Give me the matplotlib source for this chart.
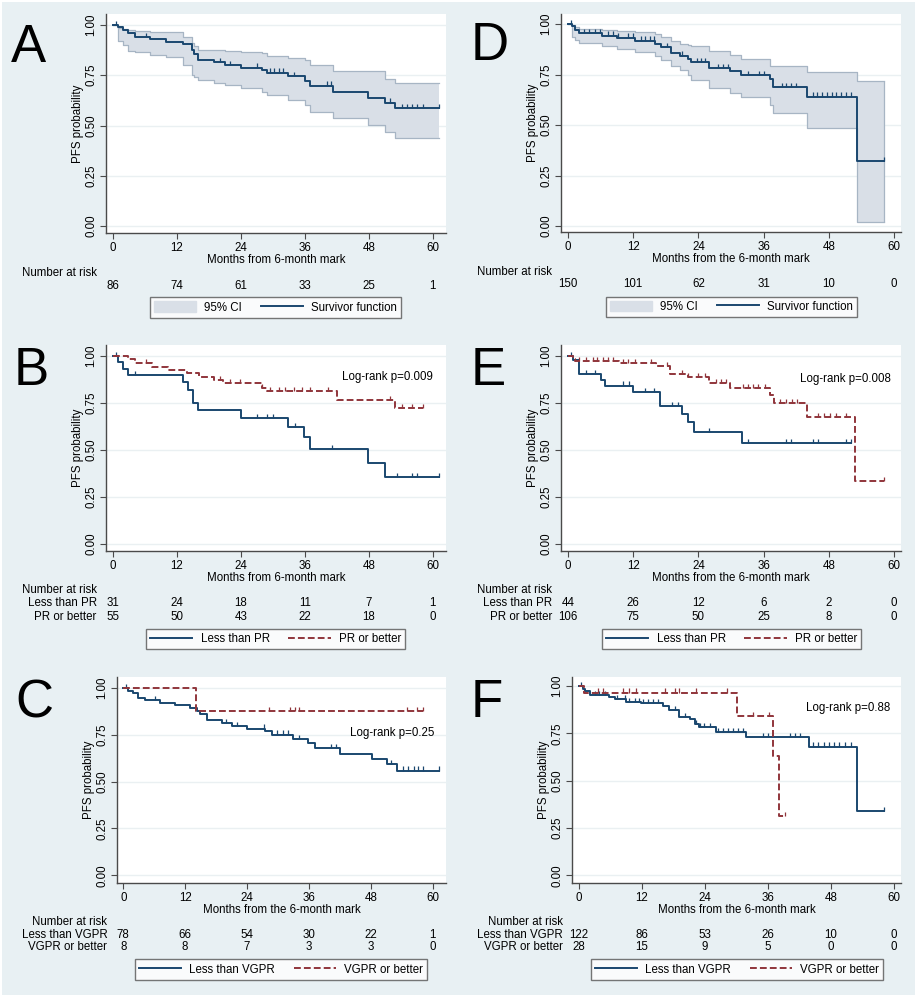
import numpy as np
import matplotlib
matplotlib.use("Agg")
import matplotlib.pyplot as plt
from matplotlib import transforms
from matplotlib.lines import Line2D
from matplotlib.patches import Patch, Rectangle

plt.rcParams['font.family'] = ['Liberation Sans', 'DejaVu Sans']

# ---------------- data ----------------
risk_times = [0, 12, 24, 36, 48, 60]

# A: whole cohort, survivor function with 95% CI
a_t = [0, 0.9, 2.0, 2.9, 4.2, 7.0, 10.0, 13.1, 14.8, 15.2, 16.0, 18.9, 21.0, 24.0,
       27.9, 29.0, 32.9, 36.0, 37.0, 41.25, 47.9, 51.0, 53.0, 61.25]
a_s = [1.0, 0.99, 0.975, 0.96, 0.94, 0.93, 0.917, 0.905, 0.875, 0.855, 0.826, 0.815, 0.80, 0.788,
       0.775, 0.763, 0.745, 0.72, 0.697, 0.668, 0.638, 0.614, 0.585, 0.585]
a_hi = [1.0, 0.985, 0.98, 0.975, 0.972, 0.965, 0.963, 0.94, 0.91, 0.895, 0.875, 0.875, 0.87, 0.867,
        0.86, 0.847, 0.835, 0.826, 0.80, 0.77, 0.77, 0.73, 0.71, 0.71]
a_lo = [1.0, 0.92, 0.90, 0.87, 0.867, 0.85, 0.842, 0.80, 0.75, 0.74, 0.726, 0.713, 0.70, 0.685,
        0.668, 0.652, 0.627, 0.60, 0.569, 0.536, 0.502, 0.469, 0.44, 0.44]
a_cens = [0.6, 6.2, 20.1, 22.0, 27.0, 29.5, 30.3, 31.1, 32.0, 34.0, 40.1, 41.0,
          52.0, 54.2, 55.1, 56.1, 57.0, 58.1, 61.25]
a_risk = [86, 74, 61, 33, 25, 1]

# B: less than PR vs PR or better
b1_t = [0, 0.9, 2.0, 2.9, 13.1, 14.1, 15.0, 16.0, 24.0, 32.9, 35.9, 37.0, 47.9, 51.0, 61.25]
b1_s = [1.0, 0.965, 0.929, 0.897, 0.858, 0.818, 0.747, 0.712, 0.671, 0.623, 0.566, 0.503, 0.428, 0.357, 0.357]
b1_cens = [0.6, 4.2, 27.1, 28.9, 30.0, 34.2, 41.1, 53.25, 56.2, 57.1, 61.25]
b2_t = [0, 2.9, 4.2, 7.3, 10.4, 13.9, 16.25, 18.9, 20.75, 27.9, 28.9, 42.0, 52.9, 58.25]
b2_s = [1.0, 0.982, 0.963, 0.942, 0.924, 0.91, 0.888, 0.871, 0.853, 0.83, 0.812, 0.765, 0.72, 0.72]
b2_cens = [6.2, 20.1, 22.0, 23.9, 27.9, 29.5, 31.1, 32.3, 33.9, 35.4, 37.0, 40.4, 52.0, 54.2, 56.1, 58.1]
b_risk1 = [31, 24, 18, 11, 7, 1]
b_risk2 = [55, 50, 43, 22, 18, 0]

# C: less than VGPR vs VGPR or better
c1_t = [0, 1.0, 1.9, 2.8, 4.2, 7.1, 10.0, 12.9, 14.2, 14.9, 16.2, 19.1, 21.0, 23.9,
        27.5, 28.8, 33.0, 35.9, 37.2, 42.0, 48.2, 51.1, 53.0, 61.3]
c1_s = [1.0, 0.985, 0.97, 0.943, 0.932, 0.92, 0.906, 0.89, 0.876, 0.86, 0.826, 0.812, 0.796, 0.782,
        0.769, 0.75, 0.728, 0.703, 0.679, 0.648, 0.622, 0.591, 0.558, 0.558]
c1_cens = [0.6, 6.1, 20.0, 22.1, 27.3, 29.9, 30.9, 31.9, 34.1, 40.3, 41.2, 52.0,
           54.2, 55.3, 56.3, 57.2, 58.2, 61.3]
c2_t = [0, 14.1, 58.2]
c2_s = [1.0, 0.875, 0.875]
c2_cens = [28.3, 32.3, 33.2, 34.1, 55.1, 57.0, 58.2]
c_risk1 = [78, 66, 54, 30, 22, 1]
c_risk2 = [8, 8, 7, 3, 3, 0]

# D: whole cohort (second series), survivor function with 95% CI
d_t = [0, 0.8, 1.35, 2.0, 6.25, 9.0, 12.4, 16.0, 17.2, 19.0, 20.7, 22.0, 22.6, 25.9,
       29.75, 31.9, 37.1, 37.7, 44.0, 53.1, 58.2]
d_s = [1.0, 0.99, 0.97, 0.954, 0.942, 0.932, 0.917, 0.90, 0.885, 0.858, 0.842, 0.825, 0.81, 0.78,
       0.767, 0.746, 0.73, 0.686, 0.64, 0.322, 0.322]
d_hi = [1.0, 0.995, 0.985, 0.975, 0.97, 0.965, 0.96, 0.95, 0.935, 0.915, 0.90, 0.895, 0.89, 0.866,
        0.846, 0.825, 0.79, 0.79, 0.764, 0.72, 0.72]
d_lo = [1.0, 0.935, 0.92, 0.908, 0.893, 0.876, 0.863, 0.84, 0.82, 0.79, 0.772, 0.75, 0.723, 0.682,
        0.66, 0.637, 0.60, 0.558, 0.487, 0.021, 0.021]
d_cens = [0.6, 3.0, 3.9, 4.9, 5.8, 7.4, 8.3, 9.2, 11.0, 12.0, 13.4, 14.1, 15.0, 15.9, 18.3, 21.0,
          23.8, 24.5, 25.3, 27.6, 28.5, 29.4, 33.1, 35.1, 36.1, 39.3, 40.2, 41.1, 42.0,
          45.0, 45.9, 46.8, 47.6, 48.5, 49.4, 50.3, 51.2, 52.1, 58.2]
d_risk = [150, 101, 62, 31, 10, 0]

# E: less than PR vs PR or better
e1_t = [0, 0.9, 2.0, 6.0, 6.9, 12.0, 17.0, 21.0, 22.1, 23.1, 32.0, 52.1]
e1_s = [1.0, 0.977, 0.901, 0.871, 0.841, 0.809, 0.733, 0.69, 0.646, 0.593, 0.536, 0.536]
e1_cens = [0.6, 3.4, 5.0, 10.2, 11.2, 14.2, 15.8, 19.2, 20.2, 26.0, 33.1, 40.2, 41.1,
           45.1, 46.1, 51.2, 52.1]
e2_t = [0, 0.9, 1.2, 9.3, 16.25, 18.8, 22.1, 26.0, 29.9, 37.1, 37.9, 43.9, 52.9, 58.2]
e2_s = [1.0, 0.985, 0.973, 0.961, 0.945, 0.903, 0.885, 0.853, 0.827, 0.79, 0.747, 0.676, 0.336, 0.336]
e2_cens = [2.1, 3.4, 4.6, 5.4, 6.4, 7.4, 8.3, 10.1, 11.0, 12.3, 15.2, 18.3, 20.9, 22.1, 23.9, 25.3,
           27.3, 28.2, 29.1, 32.2, 33.1, 34.0, 35.0, 36.2, 39.1, 40.2, 41.3, 42.2,
           46.0, 47.2, 48.3, 49.4, 51.2, 58.2]
e_risk1 = [44, 26, 12, 6, 2, 0]
e_risk2 = [106, 75, 50, 25, 8, 0]

# F: less than VGPR vs VGPR or better
f1_t = [0, 0.75, 1.05, 2.0, 5.8, 6.8, 9.0, 11.9, 16.0, 17.1, 19.0, 21.1, 22.0, 22.8,
        26.0, 31.9, 43.9, 53.0, 58.1]
f1_s = [1.0, 0.985, 0.974, 0.952, 0.94, 0.93, 0.917, 0.908, 0.894, 0.873, 0.838, 0.824, 0.80, 0.785,
        0.755, 0.729, 0.68, 0.34, 0.34]
f1_cens = [0.45, 3.0, 3.9, 4.9, 7.3, 8.7, 9.6, 10.6, 11.4, 12.2, 13.1, 14.1, 15.0, 18.2, 20.1,
           22.2, 23.0, 23.9, 24.9, 26.5, 27.4, 28.4, 29.3, 30.3, 31.2, 35.0, 36.0, 40.1, 41.1, 42.0,
           44.6, 45.6, 46.6, 47.6, 48.6, 49.6, 50.7, 51.9, 58.1]
f2_t = [0, 0.95, 30.0, 37.0, 38.0, 39.2]
f2_s = [1.0, 0.965, 0.843, 0.63, 0.315, 0.315]
f2_cens = [3.6, 4.6, 8.4, 9.5, 10.9, 16.3, 18.2, 19.0, 22.2, 28.1, 33.1, 36.1, 39.2]
f_risk1 = [122, 86, 53, 26, 10, 0]
f_risk2 = [28, 15, 9, 5, 0, 0]

# ---------------- styling ----------------
W, H = 918, 1000
BG = '#e8f0f3'
NAVY = '#1a476f'
RED = '#90353b'
CI_FILL = '#d9dfe7'
CI_EDGE = '#a7b5c4'
GRID = '#eaf0f2'
AXC = '#4a4a4a'
FS = 8.3

fig = plt.figure(figsize=(W / 100, H / 100), dpi=100)
fig.patch.set_facecolor('white')
fig.patches.append(Rectangle((2 / W, 1 - 995 / H), 913 / W, 993 / H, transform=fig.transFigure,
                             facecolor=BG, edgecolor='none', zorder=-10))


def step_at(t, s, x):
    idx = np.searchsorted(t, x, side='right') - 1
    return np.asarray(s)[np.clip(idx, 0, len(s) - 1)]


def make_axes(box, x0, x60, y1, y0, xlabel):
    l, t, r, b = box
    ax = fig.add_axes([l / W, 1 - b / H, (r - l) / W, (b - t) / H])
    xs = (x60 - x0) / 60
    ys = (y0 - y1)
    ax.set_xlim((l - x0) / xs, (r - x0) / xs)
    ax.set_ylim((y0 - b) / ys, (y0 - t) / ys)
    ax.set_facecolor('white')
    for side in ['top', 'right']:
        ax.spines[side].set_visible(False)
    for side in ['left', 'bottom']:
        ax.spines[side].set_color(AXC)
        ax.spines[side].set_linewidth(1.0)
    ax.set_xticks(risk_times)
    ax.set_yticks([0, 0.25, 0.5, 0.75, 1.0])
    ax.set_yticklabels(['0.00', '0.25', '0.50', '0.75', '1.00'])
    ax.tick_params(length=4.3, width=0.8, color=AXC, labelsize=FS, pad=2)
    ax.tick_params(axis='y', labelrotation=90)
    for lab in ax.get_yticklabels():
        lab.set_va('center')
    ax.yaxis.grid(True, color=GRID, lw=1.0)
    ax.set_axisbelow(True)
    ax.set_ylabel('PFS probability', fontsize=FS, labelpad=1)
    ax.set_xlabel(xlabel, fontsize=FS, labelpad=0.5)
    return ax


def km(ax, t, s, color, cens, dashed=False):
    line, = ax.step(t, s, where='post', color=color, lw=1.4, zorder=3)
    if dashed:
        line.set_dashes([3.5, 1.6])
    cy = step_at(t, s, cens)
    ax.vlines(cens, cy, cy + 0.022, color=color, lw=0.9, zorder=3)


def risk_table(ax, label_y, rows):
    tr = transforms.blended_transform_factory(ax.transData, fig.transFigure)
    lab_tr = transforms.offset_copy(tr, fig=fig, x=-16, y=0, units='dots')
    ax.text(0, 1 - label_y / H, 'Number at risk', transform=lab_tr, ha='right', va='center', fontsize=FS)
    for name, ypx, vals in rows:
        if name:
            ax.text(0, 1 - ypx / H, name, transform=lab_tr, ha='right', va='center', fontsize=FS)
        for x, v in zip(risk_times, vals):
            ax.text(x, 1 - ypx / H, str(v), transform=tr, ha='center', va='center', fontsize=FS)


def legend(handles, labels, cx, cy):
    leg = fig.legend(handles, labels, loc='center', bbox_to_anchor=(cx / W, 1 - cy / H), ncol=2,
                     frameon=True, fancybox=False, edgecolor='#555555', facecolor='white',
                     fontsize=FS, handlelength=3.7, handleheight=1.0, handletextpad=0.7,
                     columnspacing=1.6, borderpad=0.35, borderaxespad=0)
    leg.get_frame().set_linewidth(1.0)


def letter(ch, x, base):
    fig.text(x / W, 1 - base / H, ch, fontsize=38, ha='left', va='baseline')


ci_handles = [Patch(facecolor=CI_FILL, edgecolor=CI_FILL), Line2D([], [], color=NAVY, lw=1.4)]
two_handles = [Line2D([], [], color=NAVY, lw=1.4), Line2D([], [], color=RED, lw=1.4, dashes=[3.5, 1.6])]

# ---- A ----
ax = make_axes((106, 14, 446, 233), 112.7, 432.7, 25, 226, 'Months from 6-month mark')
ax.fill_between(a_t, a_lo, a_hi, step='post', facecolor=CI_FILL, edgecolor='none', zorder=1)
ax.step(a_t, a_hi, where='post', color=CI_EDGE, lw=0.9, zorder=2)
ax.step(a_t, a_lo, where='post', color=CI_EDGE, lw=0.9, zorder=2)
km(ax, a_t, a_s, NAVY, a_cens)
risk_table(ax, 273, [(None, 286, a_risk)])
legend(ci_handles, ['95% CI', 'Survivor function'], 275.5, 307.5)
letter('A', 11, 62)

# ---- B ----
ax = make_axes((106, 345, 446, 551), 112.7, 432.7, 355.7, 544, 'Months from 6-month mark')
km(ax, b1_t, b1_s, NAVY, b1_cens)
km(ax, b2_t, b2_s, RED, b2_cens, dashed=True)
ax.text(60, 0.885, 'Log-rank p=0.009', ha='right', va='center', fontsize=FS)
risk_table(ax, 590, [('Less than PR', 603, b_risk1), ('PR or better', 617, b_risk2)])
legend(two_handles, ['Less than PR', 'PR or better'], 275.5, 639)
letter('B', 14, 385)

# ---- C ----
ax = make_axes((117, 677, 446, 883), 123.3, 432.7, 687.7, 875.3, 'Months from the 6-month mark')
km(ax, c1_t, c1_s, NAVY, c1_cens)
km(ax, c2_t, c2_s, RED, c2_cens, dashed=True)
ax.text(60.4, 0.76, 'Log-rank p=0.25', ha='right', va='center', fontsize=FS)
risk_table(ax, 922, [('Less than VGPR', 935, c_risk1), ('VGPR or better', 947, c_risk2)])
legend(two_handles, ['Less than VGPR', 'VGPR or better'], 281, 969.5)
letter('C', 15, 717)

# ---- D ----
ax = make_axes((561, 14, 901, 232), 568, 894, 24, 226, 'Months from the 6-month mark')
ax.fill_between(d_t, d_lo, d_hi, step='post', facecolor=CI_FILL, edgecolor='none', zorder=1)
ax.step(d_t, d_hi, where='post', color=CI_EDGE, lw=0.9, zorder=2)
ax.step(d_t, d_lo, where='post', color=CI_EDGE, lw=0.9, zorder=2)
ax.vlines(d_t[-1], d_lo[-1], d_hi[-1], color=CI_EDGE, lw=0.9, zorder=2)
km(ax, d_t, d_s, NAVY, d_cens)
risk_table(ax, 272, [(None, 284, d_risk)])
legend(ci_handles, ['95% CI', 'Survivor function'], 731.5, 307)
letter('D', 471, 60)

# ---- E ----
ax = make_axes((561, 345, 901, 551), 568, 894, 355.7, 544, 'Months from the 6-month mark')
km(ax, e1_t, e1_s, NAVY, e1_cens)
km(ax, e2_t, e2_s, RED, e2_cens, dashed=True)
ax.text(59.4, 0.874, 'Log-rank p=0.008', ha='right', va='center', fontsize=FS)
risk_table(ax, 590, [('Less than PR', 603, e_risk1), ('PR or better', 617, e_risk2)])
legend(two_handles, ['Less than PR', 'PR or better'], 731.5, 639)
letter('E', 471, 385)

# ---- F ----
ax = make_axes((572, 677, 901, 883), 579, 894, 686, 875.3, 'Months from the 6-month mark')
km(ax, f1_t, f1_s, NAVY, f1_cens)
km(ax, f2_t, f2_s, RED, f2_cens, dashed=True)
ax.text(59.2, 0.882, 'Log-rank p=0.88', ha='right', va='center', fontsize=FS)
risk_table(ax, 922, [('Less than VGPR', 935, f_risk1), ('VGPR or better', 947, f_risk2)])
legend(two_handles, ['Less than VGPR', 'VGPR or better'], 737, 969.5)
letter('F', 471, 717)

fig.savefig('out.png', dpi=100)
